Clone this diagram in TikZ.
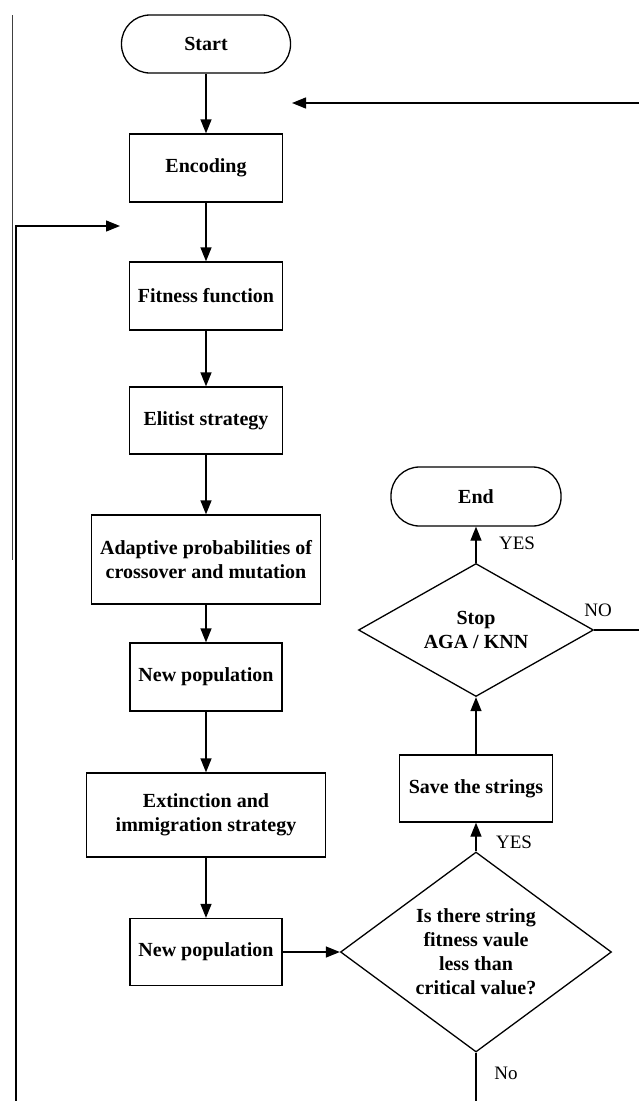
\documentclass[tikz,border=0pt]{standalone}
\usepackage{fontspec}
\setmainfont{Liberation Serif}
\usetikzlibrary{shapes.geometric,arrows.meta}
\begin{document}
\begin{tikzpicture}[x=1pt,y=-1pt,
  line width=1.3pt,
  box/.style={draw, rectangle, align=center, inner sep=0pt,
    font=\fontsize{20}{24.5}\selectfont\bfseries},
  term/.style={box, rounded corners=28.5pt},
  dec/.style={draw, diamond, align=center, inner sep=0pt,
    font=\fontsize{20}{24}\selectfont\bfseries},
  lbl/.style={font=\fontsize{19}{22}\selectfont, inner sep=0pt},
  arr/.style={-{Triangle[length=14pt,width=11pt]}},
]
\useasboundingbox (0,0) rectangle (639,1101);

% main column
\node[term, minimum width=169pt, minimum height=58pt] (start) at (206,44) {Start};
\node[box, minimum width=153pt, minimum height=68pt] (enc) at (206,168) {Encoding};
\node[box, minimum width=153pt, minimum height=68pt] (fit) at (206,296) {Fitness function};
\node[box, minimum width=153pt, minimum height=67pt] (eli) at (206,420.5) {Elitist strategy};
\node[box, minimum width=229pt, minimum height=89pt] (ada) at (206,559.5) {Adaptive probabilities of\\crossover and mutation};
\node[box, minimum width=152pt, minimum height=68pt] (np1) at (206,677) {New population};
\node[box, minimum width=239pt, minimum height=84pt] (ext) at (206,815) {Extinction and\\immigration strategy};
\node[box, minimum width=152pt, minimum height=67pt] (np2) at (206,952) {New population};

% right column
\node[dec, aspect=1.355, minimum width=271pt, minimum height=200pt] (d2) at (476,952) {Is there string\\fitness vaule\\less than\\critical value?};
\node[box, minimum width=153pt, minimum height=67pt] (save) at (476,788.5) {Save the strings};
\node[dec, aspect=1.77, minimum width=235pt, minimum height=133pt] (d1) at (476,630) {Stop\\AGA / KNN};
\node[term, minimum width=170pt, minimum height=59pt] (end) at (476,496.5) {End};

% labels
\node[lbl] (yes1) at (517,543) {YES};
\node[lbl] (no1) at (598,610) {NO};
\node[lbl] (yes2) at (514,842) {YES};
\node[lbl] (no2) at (506,1073) {No};

% free ends
\coordinate (topin) at (639,103);
\coordinate (topend) at (292,103);
\coordinate (noout) at (639,630);
\coordinate (nobot) at (476,1101);
\coordinate (loopbot) at (16,1101);
\coordinate (loopend) at (120,226);
\coordinate (edgeA) at (12,15);
\coordinate (edgeB) at (12,560);

% connectors
\draw[arr] (start) -- (enc);
\draw[arr] (enc) -- (fit);
\draw[arr] (fit) -- (eli);
\draw[arr] (eli) -- (ada);
\draw[arr] (ada) -- (np1);
\draw[arr] (np1) -- (ext);
\draw[arr] (ext) -- (np2);
\draw[arr] (np2) -- (d2);
\draw[arr] (d2) -- (save);
\draw[arr] (save) -- (d1);
\draw[arr] (d1) -- (end);
\draw (d1.east) -- (noout);
\draw (d2.south) -- (nobot);
\draw[arr] (topin) -- (topend);
\draw[arr] (loopbot) |- (loopend);
\draw[line width=0.8pt, black!75] (edgeA) -- (edgeB);
\end{tikzpicture}
\end{document}
